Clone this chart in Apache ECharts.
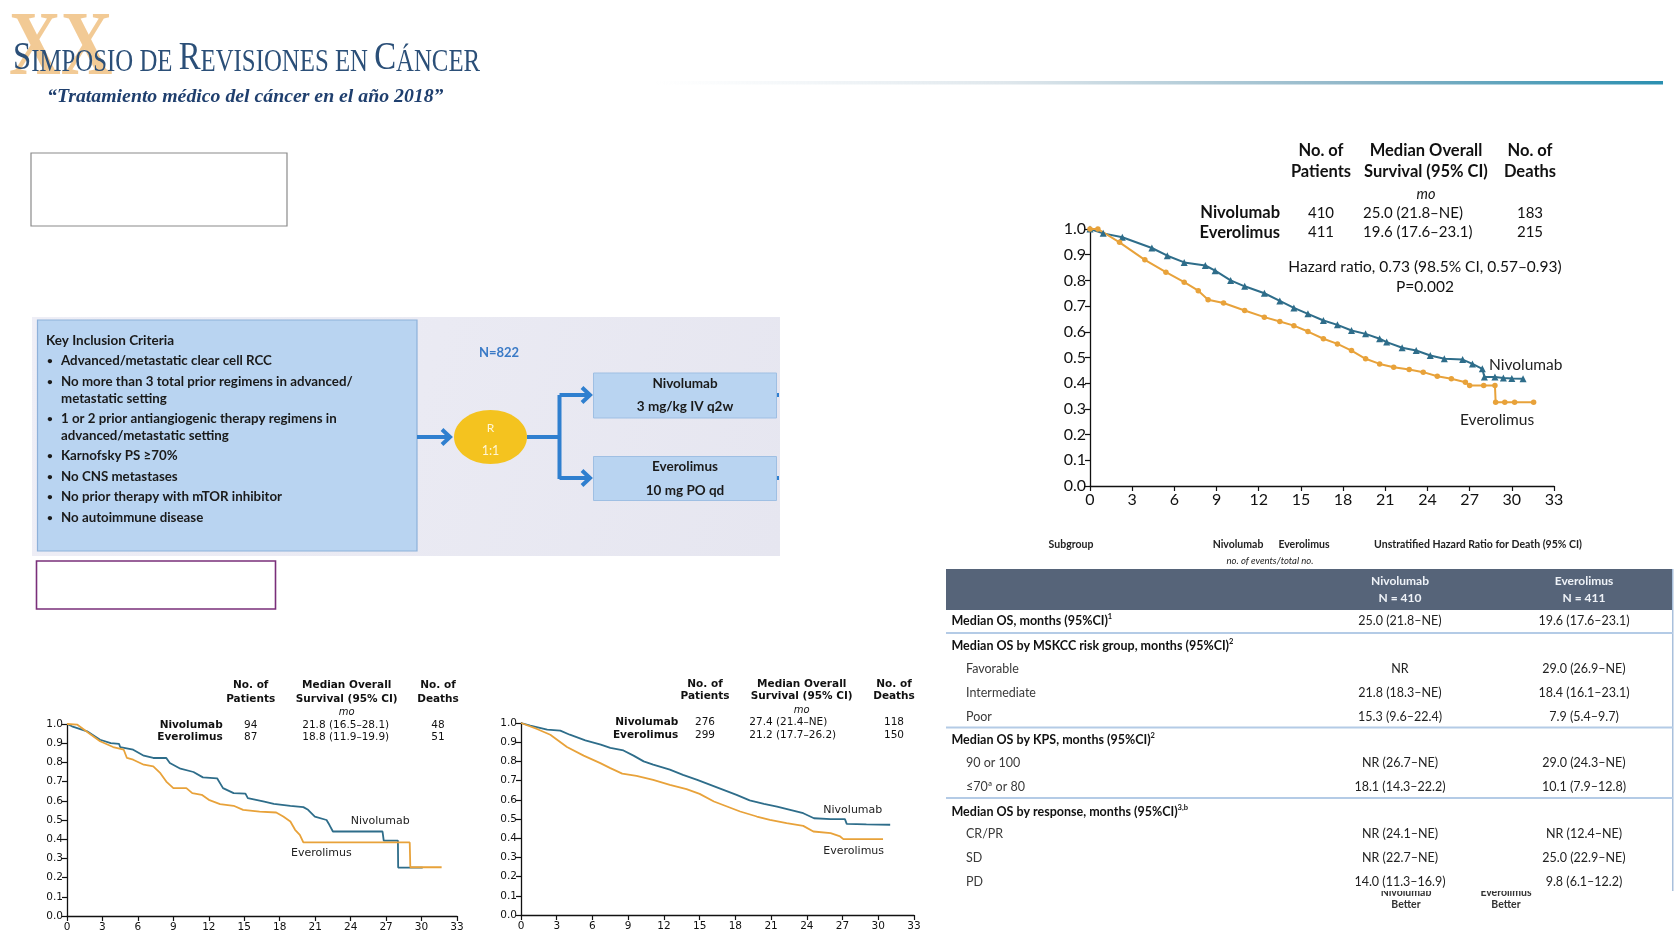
<!DOCTYPE html>
<html><head><meta charset="utf-8">
<script src="https://cdn.jsdelivr.net/npm/echarts@6.0.0/dist/echarts.min.js"></script>
<style>html,body{margin:0;padding:0;background:#fff;}#c{width:1680px;height:945px;}</style>
</head><body><div id="c"></div>
<script>
// ---------- DATA ----------
const monthTicks = [0,3,6,9,12,15,18,21,24,27,30,33];
// Main KM (all patients) [month, survival]
const nivoMain = [[0,1.0],[0.94,0.983],[2.3,0.968],[4.4,0.926],[5.5,0.896],[6.7,0.87],[8.2,0.858],[8.9,0.838],[10,0.80],[11,0.777],[12.4,0.75],[13.5,0.72],[14.5,0.693],[15.5,0.67],[16.6,0.644],[17.6,0.627],[18.6,0.605],[19.6,0.592],[20.6,0.573],[21.1,0.56],[22.2,0.538],[23.2,0.527],[24.2,0.508],[25.2,0.495],[26.5,0.492],[27.2,0.475],[27.9,0.456],[28.05,0.424],[28.8,0.424],[29.4,0.42],[30.0,0.418],[30.8,0.417]];
const everoMain = [[0,1.0],[0.56,1.0],[2.1,0.948],[3.9,0.88],[5.4,0.832],[6.7,0.793],[7.7,0.76],[8.4,0.725],[9.5,0.712],[11,0.683],[12.4,0.657],[13.5,0.64],[14.5,0.624],[15.5,0.601],[16.6,0.573],[17.6,0.553],[18.6,0.527],[19.6,0.495],[20.6,0.475],[21.6,0.462],[22.7,0.453],[23.7,0.443],[24.7,0.427],[25.7,0.417],[26.7,0.404],[27.0,0.391],[28.0,0.391],[28.8,0.391],[28.85,0.326],[29.5,0.326],[30.2,0.326],[31.55,0.326]];
// Subgroup KM 1 (bottom left)
const nivoSub1 = [[0,1.0],[0.42,0.988],[1.7,0.962],[2.8,0.918],[3.7,0.90],[4.4,0.897],[4.5,0.88],[5.6,0.866],[6.5,0.835],[7.3,0.823],[8.4,0.823],[8.7,0.797],[9.6,0.767],[10.7,0.75],[11.5,0.722],[12.7,0.717],[13.2,0.666],[14.1,0.64],[15.1,0.637],[15.3,0.614],[16.6,0.597],[17.5,0.584],[18.9,0.574],[20.0,0.567],[20.4,0.553],[20.97,0.518],[21.96,0.50],[22.2,0.475],[22.5,0.44],[24.5,0.44],[26.7,0.44],[26.8,0.393],[28.0,0.393],[28.02,0.252],[30.1,0.252]];
const everoSub1 = [[0,1.0],[0.85,0.997],[1.83,0.953],[2.8,0.91],[3.9,0.88],[4.8,0.866],[5.07,0.823],[5.6,0.814],[6.5,0.788],[7.3,0.779],[7.9,0.744],[8.4,0.70],[9.0,0.666],[10.1,0.666],[10.6,0.64],[11.4,0.631],[12.0,0.605],[12.95,0.583],[14.1,0.574],[14.9,0.553],[16.3,0.544],[17.7,0.539],[18.3,0.518],[18.9,0.492],[19.3,0.449],[19.7,0.423],[20.0,0.383],[22.5,0.383],[25.3,0.383],[29.0,0.383],[29.05,0.254],[31.7,0.254]];
// Subgroup KM 2 (bottom middle)
const nivoSub2 = [[0,1.0],[0.78,0.986],[2.2,0.965],[3.3,0.96],[4.1,0.939],[5.4,0.91],[6.7,0.887],[7.5,0.87],[8.6,0.857],[9.45,0.83],[10.3,0.80],[11.1,0.783],[12.5,0.757],[13.6,0.73],[14.8,0.704],[15.9,0.678],[17.0,0.652],[18.1,0.626],[19.2,0.597],[20.4,0.579],[21.5,0.565],[22.6,0.548],[23.7,0.53],[24.6,0.504],[26.0,0.499],[27.2,0.499],[27.35,0.475],[29.0,0.472],[31.0,0.47]];
const everoSub2 = [[0,1.0],[1.34,0.969],[2.46,0.939],[3.86,0.875],[5.26,0.83],[6.66,0.791],[7.5,0.765],[8.5,0.736],[9.7,0.725],[11.1,0.704],[12.5,0.678],[13.9,0.656],[15.0,0.631],[16.2,0.591],[17.3,0.565],[18.4,0.539],[19.8,0.513],[20.9,0.496],[22.3,0.478],[23.7,0.464],[24.55,0.435],[26.0,0.426],[26.8,0.409],[27.07,0.395],[28.5,0.395],[30.4,0.395]];
// Header tables of KM charts
const mainStats = [["Nivolumab","410","25.0 (21.8\u2013NE)","183"],["Everolimus","411","19.6 (17.6\u201323.1)","215"]];
const sub1Stats = [["Nivolumab","94","21.8 (16.5\u201328.1)","48"],["Everolimus","87","18.8 (11.9\u201319.9)","51"]];
const sub2Stats = [["Nivolumab","276","27.4 (21.4\u2013NE)","118"],["Everolimus","299","21.2 (17.7\u201326.2)","150"]];
// Right table
const tableRows = [
  ["h","Median OS, months (95%CI)","1","25.0 (21.8\u2013NE)","19.6 (17.6\u201323.1)"],
  ["h","Median OS by MSKCC risk group, months (95%CI)","2","",""],
  ["s","Favorable","","NR","29.0 (26.9\u2013NE)"],
  ["s","Intermediate","","21.8 (18.3\u2013NE)","18.4 (16.1\u201323.1)"],
  ["s","Poor","","15.3 (9.6\u201322.4)","7.9 (5.4\u20139.7)"],
  ["h","Median OS by KPS, months (95%CI)","2","",""],
  ["s","90 or 100","","NR (26.7\u2013NE)","29.0 (24.3\u2013NE)"],
  ["s","\u226470\u00aa or 80","","18.1 (14.3\u201322.2)","10.1 (7.9\u201312.8)"],
  ["h","Median OS by response, months (95%CI)","3,b","",""],
  ["s","CR/PR","","NR (24.1\u2013NE)","NR (12.4\u2013NE)"],
  ["s","SD","","NR (22.7\u2013NE)","25.0 (22.9\u2013NE)"],
  ["s","PD","","14.0 (11.3\u201316.9)","9.8 (6.1\u201312.2)"]
];
const criteria = [
  [true,"Advanced/metastatic clear cell RCC"],
  [true,"No more than 3 total prior regimens in advanced/"],
  [false,"metastatic setting"],
  [true,"1 or 2 prior antiangiogenic therapy regimens in"],
  [false,"advanced/metastatic setting"],
  [true,"Karnofsky PS \u226570%"],
  [true,"No CNS metastases"],
  [true,"No prior therapy with mTOR inhibitor"],
  [true,"No autoimmune disease"]
];

// ---------- STYLE ----------
const TEAL = '#2e6d8a', ORANGE = '#e8a23a';
const chart = echarts.init(document.getElementById('c'), null, {renderer:'canvas'});
const g = [];
function T(x,y,text,o){o=o||{};g.push({type:'text',x:x,y:y,z:o.z||10,silent:true,scaleX:o.sx||1,
  style:{text:text,fill:o.c||'#111',fontSize:o.s||12,fontFamily:o.f||'Lato',fontWeight:o.w||'normal',fontStyle:o.i?'italic':'normal',
  align:o.a||'left',verticalAlign:o.va||'middle',rich:o.rich}});}
function R(x,y,w,h,fill,stroke,lw,z){g.push({type:'rect',z:z||1,silent:true,shape:{x:x,y:y,width:w,height:h},style:{fill:fill||'none',stroke:stroke||null,lineWidth:lw||1}});}
function L(pts,stroke,lw,z){g.push({type:'polyline',z:z||5,silent:true,shape:{points:pts},style:{stroke:stroke,lineWidth:lw,fill:null,lineJoin:'miter'}});}

// Header
T(9,96,'XX',{s:92,f:'Liberation Serif',w:'bold',c:'rgba(241,196,138,0.9)',sx:0.78,z:2,va:'bottom'});
T(13,58,'{b|S}{s|IMPOSIO DE }{b|R}{s|EVISIONES EN }{b|C}{s|\u00c1NCER}',{f:'Liberation Serif',c:'#2b4f78',sx:0.8,z:4,
  rich:{b:{fontSize:41,fontFamily:'Liberation Serif',fill:'#2b4f78',verticalAlign:'bottom'},s:{fontSize:31,fontFamily:'Liberation Serif',fill:'#2b4f78',verticalAlign:'bottom'}}});
T(47,97,'\u201cTratamiento m\u00e9dico del c\u00e1ncer en el a\u00f1o 2018\u201d',{s:19.8,f:'Liberation Serif',w:'bold',i:true,c:'#1f3f6e'});
g.push({type:'rect',z:1,silent:true,shape:{x:654,y:81,width:1009,height:3.5},style:{fill:new echarts.graphic.LinearGradient(0,0,1,0,[{offset:0,color:'rgba(230,238,244,0)'},{offset:0.35,color:'#dfe7ec'},{offset:0.7,color:'#8fb6c8'},{offset:1,color:'#2a8fb0'}])}});

// Empty boxes
R(31,153,256,73,'#fff','#8a8a8a',1.2);
R(36.5,561,239,48,'#fff','#7a2f7a',1.6);

// Study design
g.push({type:'rect',z:0,silent:true,shape:{x:32,y:317,width:748,height:239},style:{fill:new echarts.graphic.LinearGradient(0,0,1,1,[{offset:0,color:'#eeeef6'},{offset:1,color:'#e6e6f0'}])}});
R(37.5,320,379.5,231,'#b9d4f1','#8eb1da',1.2,2);
T(46,341,'Key Inclusion Criteria',{s:13.5,w:'bold',c:'#1a1a1a'});
const critY = [361,381.5,398.5,419,436,456,477,497,517.5];
criteria.forEach((c,i)=>{ if(c[0]) T(47,critY[i],'\u2022',{s:10,w:'bold',c:'#1a1a1a'}); T(61,critY[i],c[1],{s:13.3,w:'bold',c:'#1a1a1a'}); });
T(499,352.5,'N=822',{s:13,w:'bold',c:'#3a7ac6',a:'center'});
const AR = '#2f7fcf';
L([[417,437],[450,437]],AR,4);
L([[442,429.5],[450,437],[442,444.5]],AR,4);
g.push({type:'ellipse',z:4,silent:true,shape:{cx:490.5,cy:437,rx:36.5,ry:27},style:{fill:'#f4c31f'}});
T(490.5,428,'R',{s:12,c:'#fff6d6',a:'center',z:6});
T(490.5,451,'1:1',{s:12.5,c:'#fff6d6',a:'center',z:6});
L([[527,437],[559.5,437]],AR,4);
L([[559.5,395],[559.5,479]],AR,4);
L([[559.5,395],[590,395]],AR,4);
L([[559.5,478],[590,478]],AR,4);
L([[582,387.5],[590,395],[582,402.5]],AR,4);
L([[582,470.5],[590,478],[582,485.5]],AR,4);
R(593.5,373,183,45,'#b9d4f1','#9fbfe3',1,3);
R(593.5,456.5,183,44,'#b9d4f1','#9fbfe3',1,3);
R(777,393,2,4,AR,null,1,3);R(777,476,2,4,AR,null,1,3);
T(685,384,'Nivolumab',{s:13.5,w:'bold',a:'center',c:'#1a1a1a'});
T(685,407,'3 mg/kg IV q2w',{s:13.5,w:'bold',a:'center',c:'#1a1a1a'});
T(685,467,'Everolimus',{s:13.5,w:'bold',a:'center',c:'#1a1a1a'});
T(685,491,'10 mg PO qd',{s:13.5,w:'bold',a:'center',c:'#1a1a1a'});

// Main KM header
const MF='Lato';
T(1321,151,'No. of',{s:16.5,w:'bold',a:'center',f:MF});T(1321,171.5,'Patients',{s:16.5,w:'bold',a:'center',f:MF});
T(1426,151,'Median Overall',{s:16.5,w:'bold',a:'center',f:MF});T(1426,171.5,'Survival (95% CI)',{s:16.5,w:'bold',a:'center',f:MF});
T(1530,151,'No. of',{s:16.5,w:'bold',a:'center',f:MF});T(1530,171.5,'Deaths',{s:16.5,w:'bold',a:'center',f:MF});
T(1426,194,'mo',{s:14.5,i:true,a:'center',f:MF});
mainStats.forEach((r,i)=>{const y=[213,232.5][i];
  T(1280,y,r[0],{s:16.5,w:'bold',a:'right',f:MF});T(1321,y,r[1],{s:15,a:'center',f:MF});
  T(1363,y,r[2],{s:15,f:MF});T(1530,y,r[3],{s:15,a:'center',f:MF});});
T(1425,267,'Hazard ratio, 0.73 (98.5% CI, 0.57\u20130.93)',{s:15.5,a:'center',f:MF});
T(1425,287,'P=0.002',{s:15.5,a:'center',f:MF});
T(1489,365,'Nivolumab',{s:15.5,f:MF,c:'#222'});
T(1460,420,'Everolimus',{s:15.5,f:MF,c:'#222'});

// Sub KM headers
function subHeader(cfg,stats){
  const f='DejaVu Sans';
  T(cfg.p,cfg.y1,'No. of',{s:10.5,w:'bold',a:'center',f:f});T(cfg.p,cfg.y2,'Patients',{s:10.5,w:'bold',a:'center',f:f});
  T(cfg.m,cfg.y1,'Median Overall',{s:10.5,w:'bold',a:'center',f:f});T(cfg.m,cfg.y2,'Survival (95% CI)',{s:10.5,w:'bold',a:'center',f:f});
  T(cfg.d,cfg.y1,'No. of',{s:10.5,w:'bold',a:'center',f:f});T(cfg.d,cfg.y2,'Deaths',{s:10.5,w:'bold',a:'center',f:f});
  T(cfg.m,cfg.ymo,'mo',{s:10,i:true,a:'center',f:f});
  stats.forEach((r,i)=>{const y=cfg.rows[i];
    T(cfg.n,y,r[0],{s:10.5,w:'bold',a:'right',f:f});T(cfg.p,y,r[1],{s:10.5,a:'center',f:f});
    T(cfg.v,y,r[2],{s:10.5,a:cfg.va,f:f});T(cfg.d,y,r[3],{s:10.5,a:'center',f:f});});
}
subHeader({p:250.7,m:346.7,d:438,y1:685.7,y2:699,ymo:712.5,rows:[725,737.7],n:222.7,v:345.7,va:'center'},sub1Stats);
subHeader({p:705,m:801.7,d:894,y1:684,y2:696.7,ymo:710.7,rows:[722.7,735.7],n:678.3,v:749.3,va:'left'},sub2Stats);
T(350.7,821,'Nivolumab',{s:11,f:'DejaVu Sans',c:'#222'});
T(291,852.7,'Everolimus',{s:11,f:'DejaVu Sans',c:'#222'});
T(823.3,810,'Nivolumab',{s:11,f:'DejaVu Sans',c:'#222'});
T(823.3,851,'Everolimus',{s:11,f:'DejaVu Sans',c:'#222'});

// Forest header + table
T(1071,544.5,'Subgroup',{s:10.5,w:'bold',a:'center',c:'#222'});
T(1238,544.5,'Nivolumab',{s:10.5,w:'bold',a:'center',c:'#222'});
T(1304,544.5,'Everolimus',{s:10.5,w:'bold',a:'center',c:'#222'});
T(1478,544.5,'Unstratified Hazard Ratio for Death (95% CI)',{s:10.5,w:'bold',a:'center',c:'#222'});
T(1270,561,'no. of events/total no.',{s:9.5,i:true,a:'center',c:'#222'});
T(1406,893,'Nivolumab',{s:10.5,w:'bold',a:'center',c:'#333',z:2});
T(1506,893,'Everolimus',{s:10.5,w:'bold',a:'center',c:'#333',z:2});
R(1340,880,220,11,'#fff',null,1,3);
T(1406,904.5,'Better',{s:10.5,w:'bold',a:'center',c:'#333'});
T(1506,904.5,'Better',{s:10.5,w:'bold',a:'center',c:'#333'});
R(946,569,727,41,'#566479',null,1,4);
T(1400,581,'Nivolumab',{s:12,w:'bold',a:'center',c:'#eef2f7'});T(1400,598,'N = 410',{s:12,w:'bold',a:'center',c:'#eef2f7'});
T(1584,581,'Everolimus',{s:12,w:'bold',a:'center',c:'#eef2f7'});T(1584,598,'N = 411',{s:12,w:'bold',a:'center',c:'#eef2f7'});
R(1672,569,1.5,322,'#a9c0dc',null,1,4);
[633,727.5,798].forEach(y=>R(946,y-1,727,2,'#b4cbe6',null,1,4));
const rowY=[621,646,669,692.7,716.7,740,763,786.7,811.7,834,858,881.7];
tableRows.forEach((r,i)=>{const y=rowY[i];
  if(r[0]==='h'){T(951.5,y,'{t|'+r[1]+'}{u|'+r[2]+'}',{s:12.5,w:'bold',c:'#111',rich:{t:{fontSize:12.5,fontWeight:'bold',fontFamily:'Lato',fill:'#111',verticalAlign:'middle',lineHeight:16},u:{fontSize:7.5,fontWeight:'bold',fontFamily:'Lato',fill:'#111',verticalAlign:'top',lineHeight:16}}});}
  else T(966,y,r[1],{s:12.5,c:'#3a3a3a'});
  if(r[3])T(1400,y,r[3],{s:12.5,a:'center',c:'#222'});
  if(r[4])T(1584,y,r[4],{s:12.5,a:'center',c:'#222'});
});

// ---------- CHART ----------
function xAx(i,fs,ff){return {type:'value',gridIndex:i,min:0,max:33,interval:3,
  axisLine:{show:true,onZero:false,lineStyle:{color:'#111',width:1.3}},axisTick:{show:true,length:5,lineStyle:{color:'#111',width:1.2}},
  splitLine:{show:false},axisLabel:{fontSize:fs,fontFamily:ff,color:'#111',margin:6}};}
function yAx(i,fs,ff){return {type:'value',gridIndex:i,min:0,max:1,interval:0.1,
  axisLine:{show:true,onZero:false,lineStyle:{color:'#111',width:1.3}},axisTick:{show:true,length:5,lineStyle:{color:'#111',width:1.2}},
  splitLine:{show:false},axisLabel:{fontSize:fs,fontFamily:ff,color:'#111',margin:4,formatter:v=>v.toFixed(1)}};}
function km(d,i,color,sym,size,w){return {type:'line',data:d,xAxisIndex:i,yAxisIndex:i,showSymbol:size>0,symbol:sym,symbolSize:size,
  lineStyle:{color:color,width:w},itemStyle:{color:color,borderWidth:0},silent:true,animation:false,z:3};}

chart.setOption({
  animation:false,
  grid:[{left:1090,right:126,top:229,bottom:459},{left:67,right:1223,top:724,bottom:29},{left:521,right:766,top:723,bottom:30}],
  xAxis:[xAx(0,16,'Lato'),xAx(1,10.5,'DejaVu Sans'),xAx(2,10.5,'DejaVu Sans')],
  yAxis:[yAx(0,16,'Lato'),yAx(1,10.5,'DejaVu Sans'),yAx(2,10.5,'DejaVu Sans')],
  series:[km(nivoMain,0,TEAL,'triangle',7,2),km(everoMain,0,ORANGE,'circle',5.5,2),
    km(nivoSub1,1,TEAL,'none',0,1.8),km(everoSub1,1,ORANGE,'none',0,1.8),
    km(nivoSub2,2,TEAL,'none',0,1.8),km(everoSub2,2,ORANGE,'none',0,1.8)],
  graphic:g
});
</script></body></html>
